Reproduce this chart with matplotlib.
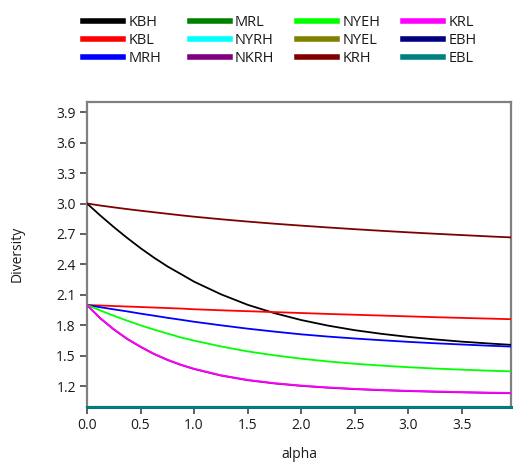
"""Renyi diversity profiles by sample."""

import matplotlib
import matplotlib.pyplot as plt

matplotlib.use("Agg")

plt.rcParams["font.family"] = ["Open Sans", "DejaVu Sans"]

alpha = [0.0, 0.125, 0.25, 0.375, 0.5, 0.625, 0.75, 0.875, 1.0,
         1.25, 1.5, 1.75, 2.0, 2.25, 2.5, 2.75, 3.0, 3.25, 3.5, 3.75, 4.0]

KBH = [3.00, 2.881, 2.768, 2.661, 2.560, 2.467, 2.381, 2.306, 2.230,
       2.106, 2.002, 1.920, 1.852, 1.797, 1.752, 1.716, 1.686, 1.661, 1.639, 1.621, 1.605]
KBL = [2.00, 1.995, 1.990, 1.985, 1.980, 1.975, 1.970, 1.965, 1.958,
       1.948, 1.939, 1.930, 1.921, 1.912, 1.904, 1.896, 1.888, 1.880, 1.873, 1.866, 1.859]
MRH = [2.00, 1.978, 1.957, 1.937, 1.915, 1.895, 1.874, 1.855, 1.835,
       1.800, 1.767, 1.738, 1.711, 1.689, 1.670, 1.653, 1.637, 1.623, 1.611, 1.599, 1.589]
MRL = [1.0] * 21
NYRH = [1.0] * 21
NKRH = [2.00, 1.867, 1.759, 1.665, 1.587, 1.517, 1.459, 1.410, 1.369,
        1.305, 1.259, 1.227, 1.203, 1.185, 1.171, 1.160, 1.152, 1.145, 1.139, 1.134, 1.130]
NYEH = [2.00, 1.946, 1.894, 1.846, 1.800, 1.758, 1.719, 1.681, 1.649,
        1.592, 1.543, 1.504, 1.471, 1.444, 1.421, 1.403, 1.387, 1.374, 1.363, 1.353, 1.345]
NYEL = [1.0] * 21
KRH = [3.00, 2.980, 2.962, 2.945, 2.929, 2.914, 2.899, 2.884, 2.870,
       2.845, 2.822, 2.801, 2.782, 2.764, 2.747, 2.731, 2.716, 2.702, 2.689, 2.676, 2.664]
KRL = [2.00, 1.870, 1.762, 1.668, 1.590, 1.520, 1.462, 1.413, 1.372,
       1.308, 1.262, 1.230, 1.206, 1.188, 1.174, 1.163, 1.155, 1.148, 1.142, 1.137, 1.133]
EBH = [1.0] * 21
EBL = [1.0] * 21

series = [
    ("KBH", KBH, "#000000"), ("KBL", KBL, "#ff0000"), ("MRH", MRH, "#0000ff"),
    ("MRL", MRL, "#008000"), ("NYRH", NYRH, "#00ffff"), ("NKRH", NKRH, "#800080"),
    ("NYEH", NYEH, "#00ff00"), ("NYEL", NYEL, "#808000"), ("KRH", KRH, "#800000"),
    ("KRL", KRL, "#ff00ff"), ("EBH", EBH, "#000080"), ("EBL", EBL, "#008080"),
]

yticks = [1.2, 1.5, 1.8, 2.1, 2.4, 2.7, 3.0, 3.3, 3.6, 3.9]
xticks = [0.0, 0.5, 1.0, 1.5, 2.0, 2.5, 3.0, 3.5]

fig = plt.figure(figsize=(5.13, 4.62), dpi=100)
ax = fig.add_axes([87 / 513, 1 - 406.5 / 462, 424 / 513, 304.5 / 462])

lines = []
for name, vals, color in series:
    flat = all(v == 1.0 for v in vals)
    (ln,) = ax.plot(alpha, vals, color=color, lw=2.1 if flat else 1.3,
                    label=name, clip_on=not flat, zorder=3,
                    solid_joinstyle="round")
    lines.append(ln)

ax.set_xlim(0, 3.96)
ax.set_ylim(1.0, 4.0)
ax.set_xticks(xticks)
ax.set_xticklabels([f"{t:.1f}" for t in xticks])
ax.set_yticks(yticks)
ax.set_yticklabels([f"{t:.1f}" for t in yticks])

for s in ax.spines.values():
    s.set_color("#808080")
    s.set_linewidth(1.6)
ax.tick_params(direction="out", length=5, width=1.4, color="#606060",
               labelsize=10, labelcolor="#1a1a1a", pad=3)
ax.set_xlabel("alpha", fontsize=10, color="#1a1a1a", labelpad=10)
ax.set_ylabel("Diversity", fontsize=10, color="#1a1a1a", labelpad=23)

# one legend per column so the columns stay evenly spaced
col_x = [80, 187, 294, 400]
for i, x in enumerate(col_x):
    leg = fig.legend(handles=lines[i * 3:(i + 1) * 3], loc="upper left",
                     bbox_to_anchor=(x / 513, 1 - 12.5 / 462), frameon=False,
                     fontsize=10.5, handlelength=2.75, handletextpad=0.35,
                     labelspacing=0.2, borderaxespad=0, borderpad=0.2)
    for h in leg.get_lines():
        h.set_linewidth(4)
    for t in leg.get_texts():
        t.set_color("#1a1a1a")

fig.savefig("out.png", dpi=100)
